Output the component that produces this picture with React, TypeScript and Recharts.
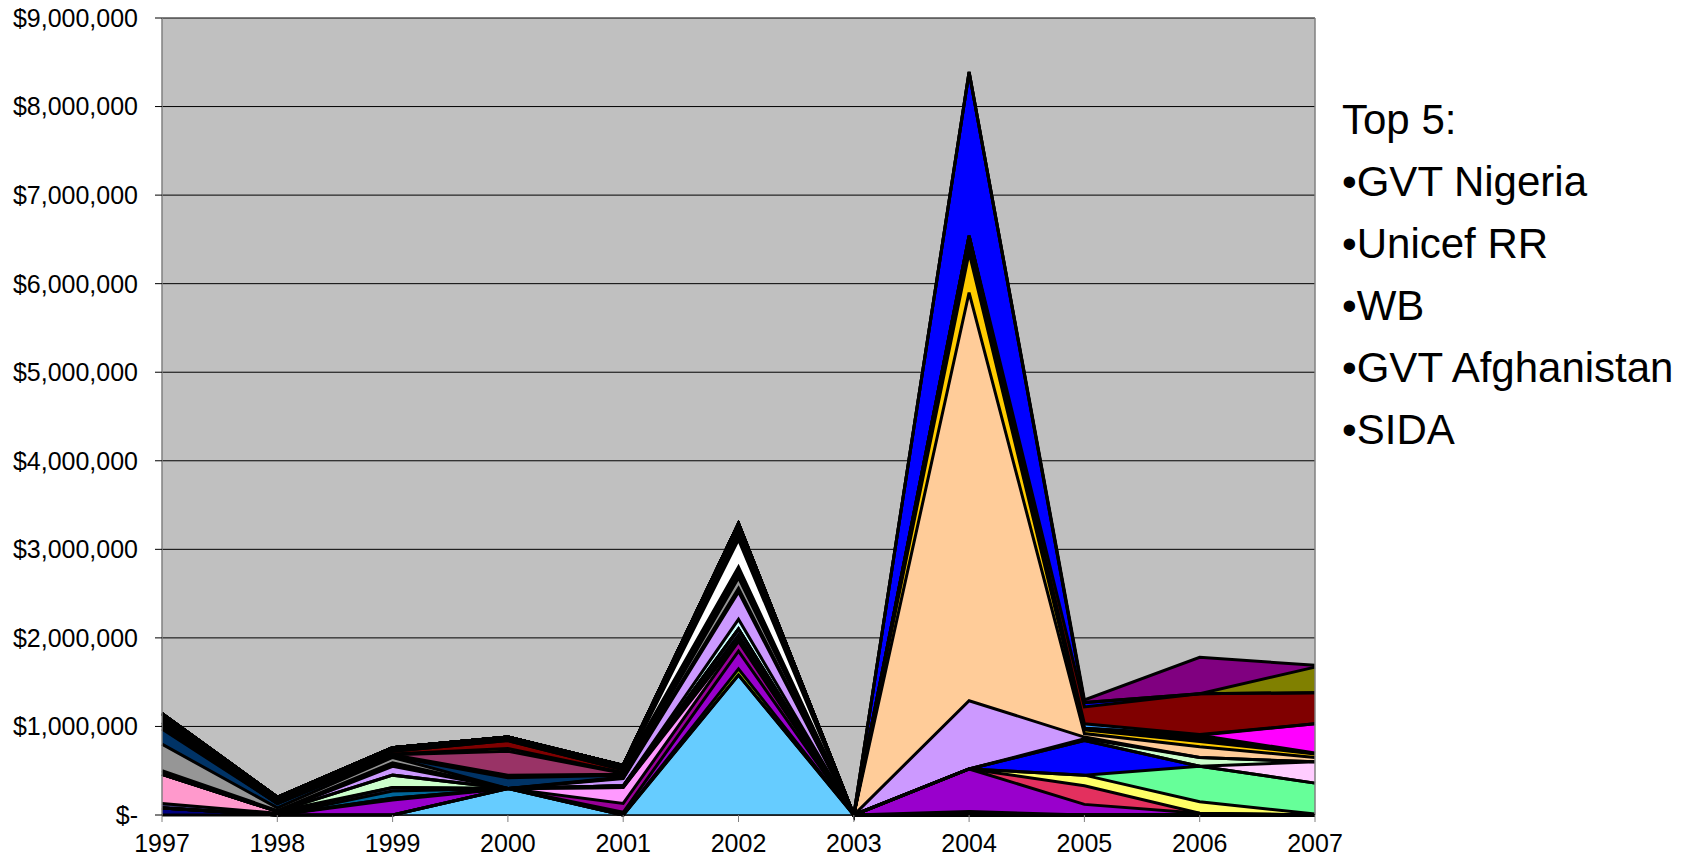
import { AreaChart, Area, XAxis, YAxis, CartesianGrid, ReferenceLine } from "recharts";

const years = ["1997", "1998", "1999", "2000", "2001", "2002", "2003", "2004", "2005", "2006", "2007"];
const yTicks = [0, 1000000, 2000000, 3000000, 4000000, 5000000, 6000000, 7000000, 8000000, 9000000];
const legendLines = ["Top 5:", "•GVT Nigeria", "•Unicef RR", "•WB", "•GVT Afghanistan", "•SIDA"];

// donors, bottom of the stack first (values in $)
const lightBlue = [0, 0, 0, 300000, 0, 1580000, 0, 0, 0, 0, 0];
const navy = [80000, 0, 0, 0, 0, 0, 0, 0, 0, 0, 0];
const yellowGreen = [0, 0, 0, 0, 0, 70000, 0, 0, 0, 0, 0];
const violet = [0, 0, 170000, 0, 30000, 200000, 0, 0, 0, 0, 0];
const plum = [0, 0, 20000, 0, 100000, 110000, 0, 0, 0, 0, 0];
const pinkB = [0, 0, 0, 0, 180000, 20000, 0, 0, 0, 0, 0];
const teal = [0, 0, 80000, 0, 0, 50000, 0, 0, 0, 0, 0];
const slate = [50000, 20000, 40000, 0, 20000, 70000, 0, 0, 0, 0, 0];
const pinkA = [330000, 20000, 0, 0, 0, 0, 0, 0, 0, 0, 0];
const lightGreen = [0, 0, 140000, 0, 0, 0, 0, 0, 0, 0, 0];
const lightCyan = [0, 0, 0, 0, 0, 110000, 0, 0, 0, 0, 0];
const lilac = [0, 0, 100000, 0, 80000, 310000, 0, 0, 0, 0, 0];
const otherA = [40000, 10000, 40000, 0, 10000, 40000, 0, 0, 0, 0, 0];
const gray = [300000, 30000, 60000, 0, 10000, 120000, 0, 0, 0, 0, 0];
const darkBlue = [170000, 50000, 10000, 120000, 20000, 30000, 0, 0, 0, 0, 0];
const otherB = [40000, 0, 20000, 30000, 10000, 30000, 0, 0, 0, 0, 0];
const mauve = [0, 0, 0, 270000, 10000, 0, 0, 0, 0, 0, 0];
const yellowA = [15000, 15000, 10000, 30000, 10000, 20000, 0, 0, 0, 0, 0];
const darkRed = [20000, 10000, 30000, 90000, 30000, 40000, 0, 0, 0, 0, 0];
const white = [0, 0, 0, 0, 0, 310000, 0, 0, 0, 0, 0];
const otherC = [100000, 45000, 40000, 40000, 50000, 180000, 0, 0, 0, 0, 0];

const goldSliver = [0, 0, 0, 0, 0, 0, 0, 40000, 0, 0, 0];
const violet2 = [0, 0, 0, 0, 0, 0, 0, 480000, 120000, 20000, 0];
const crimson = [0, 0, 0, 0, 0, 0, 0, 0, 210000, 0, 0];
const yellow2 = [0, 0, 0, 0, 0, 0, 0, 0, 120000, 130000, 10000];
const mint = [0, 0, 0, 0, 0, 0, 0, 0, 0, 400000, 350000];
const blue2 = [0, 0, 0, 0, 0, 0, 0, 0, 390000, 0, 0];
const lightPink = [0, 0, 0, 0, 0, 0, 0, 0, 0, 0, 240000];
const lightGreen2 = [0, 0, 0, 0, 0, 0, 0, 0, 20000, 100000, 0];
const lilac2 = [0, 0, 0, 0, 0, 0, 0, 770000, 20000, 0, 0];
const peach = [0, 0, 0, 0, 0, 0, 0, 4610000, 40000, 120000, 50000];
const gold = [0, 0, 0, 0, 0, 0, 0, 450000, 40000, 60000, 40000];
const otherD = [0, 0, 0, 0, 0, 0, 0, 190000, 20000, 70000, 10000];
const magenta = [0, 0, 0, 0, 0, 0, 0, 0, 0, 0, 330000];
const skyBlue = [0, 0, 0, 0, 0, 0, 0, 0, 50000, 10000, 0];
const darkRed2 = [0, 0, 0, 0, 0, 0, 0, 0, 190000, 460000, 350000];
const blue1 = [0, 0, 0, 0, 0, 0, 0, 1850000, 50000, 0, 0];
const olive = [0, 0, 0, 0, 0, 0, 0, 0, 0, 0, 290000];
const purple2 = [0, 0, 0, 0, 0, 0, 0, 0, 30000, 410000, 20000];

const series: Array<{ key: string; color: string; values: number[] }> = [
  { key: "lightBlue", color: "#66CCFF", values: lightBlue },
  { key: "navy", color: "#000080", values: navy },
  { key: "yellowGreen", color: "#99CC00", values: yellowGreen },
  { key: "violet", color: "#9900CC", values: violet },
  { key: "plum", color: "#990099", values: plum },
  { key: "pinkB", color: "#FF99FF", values: pinkB },
  { key: "teal", color: "#006699", values: teal },
  { key: "slate", color: "#333366", values: slate },
  { key: "pinkA", color: "#FF99CC", values: pinkA },
  { key: "lightGreen", color: "#CCFFCC", values: lightGreen },
  { key: "lightCyan", color: "#CCFFFF", values: lightCyan },
  { key: "lilac", color: "#CC99FF", values: lilac },
  { key: "otherA", color: "#000000", values: otherA },
  { key: "gray", color: "#969696", values: gray },
  { key: "darkBlue", color: "#003366", values: darkBlue },
  { key: "otherB", color: "#000000", values: otherB },
  { key: "mauve", color: "#993366", values: mauve },
  { key: "yellowA", color: "#FFFF00", values: yellowA },
  { key: "darkRed", color: "#800000", values: darkRed },
  { key: "white", color: "#FFFFFF", values: white },
  { key: "otherC", color: "#000000", values: otherC },
  { key: "goldSliver", color: "#FFCC00", values: goldSliver },
  { key: "violet2", color: "#9900CC", values: violet2 },
  { key: "crimson", color: "#E3305E", values: crimson },
  { key: "yellow2", color: "#FFFF66", values: yellow2 },
  { key: "mint", color: "#66FF99", values: mint },
  { key: "blue2", color: "#0000FF", values: blue2 },
  { key: "lightPink", color: "#FFCCFF", values: lightPink },
  { key: "lightGreen2", color: "#CCFFCC", values: lightGreen2 },
  { key: "lilac2", color: "#CC99FF", values: lilac2 },
  { key: "peach", color: "#FFCC99", values: peach },
  { key: "gold", color: "#FFCC00", values: gold },
  { key: "otherD", color: "#000000", values: otherD },
  { key: "magenta", color: "#FF00FF", values: magenta },
  { key: "skyBlue", color: "#3399FF", values: skyBlue },
  { key: "darkRed2", color: "#800000", values: darkRed2 },
  { key: "blue1", color: "#0000FF", values: blue1 },
  { key: "olive", color: "#808000", values: olive },
  { key: "purple2", color: "#800080", values: purple2 },
];

const rows = years.map((year, i) => {
  const row: Record<string, string | number> = { year };
  series.forEach((s) => {
    row[s.key] = s.values[i];
  });
  return row;
});

const money = (v: number) => (v === 0 ? "$-" : "$" + v.toLocaleString("en-US"));

export default function App() {
  return (
    <div
      style={{
        position: "absolute",
        left: 0,
        top: 0,
        width: 1697,
        height: 860,
        background: "#fff",
        fontFamily: '"Liberation Sans", Arial, sans-serif',
      }}
    >
      <AreaChart width={1697} height={860} data={rows} margin={{ top: 18, right: 382, bottom: 0, left: 0 }}>
        <CartesianGrid vertical={false} stroke="#000" fill="#C0C0C0" fillOpacity={1} />
        <XAxis
          dataKey="year"
          height={45}
          interval={0}
          tickSize={7}
          tickMargin={12}
          tick={{ fill: "#000", fontSize: 25 }}
          axisLine={{ stroke: "#000", strokeWidth: 1.5 }}
          tickLine={{ stroke: "#808080" }}
        />
        <YAxis
          width={162}
          domain={[0, 9000000]}
          ticks={yTicks}
          interval={0}
          tickFormatter={money}
          tickSize={7}
          tickMargin={17}
          tick={{ fill: "#000", fontSize: 25 }}
          axisLine={{ stroke: "#808080", strokeWidth: 1.5 }}
          tickLine={{ stroke: "#000" }}
        />
        {/* fills first, then the black outlines on top */}
        {series.map((s) => (
          <Area
            key={"f-" + s.key}
            type="linear"
            dataKey={s.key}
            stackId="fill"
            fill={s.color}
            fillOpacity={1}
            stroke="none"
            dot={false}
            activeDot={false}
            isAnimationActive={false}
          />
        ))}
        {series.map((s) => (
          <Area
            key={"s-" + s.key}
            type="linear"
            dataKey={s.key}
            stackId="line"
            fill="none"
            stroke="#000"
            strokeWidth={3}
            dot={false}
            activeDot={false}
            isAnimationActive={false}
          />
        ))}
        <ReferenceLine x="2007" stroke="#808080" strokeWidth={1.5} />
      </AreaChart>
      <div
        style={{
          position: "absolute",
          left: 1342,
          top: 89,
          fontSize: 42,
          lineHeight: "62px",
          color: "#000",
          whiteSpace: "nowrap",
        }}
      >
        {legendLines.map((t) => (
          <div key={t}>{t}</div>
        ))}
      </div>
    </div>
  );
}
